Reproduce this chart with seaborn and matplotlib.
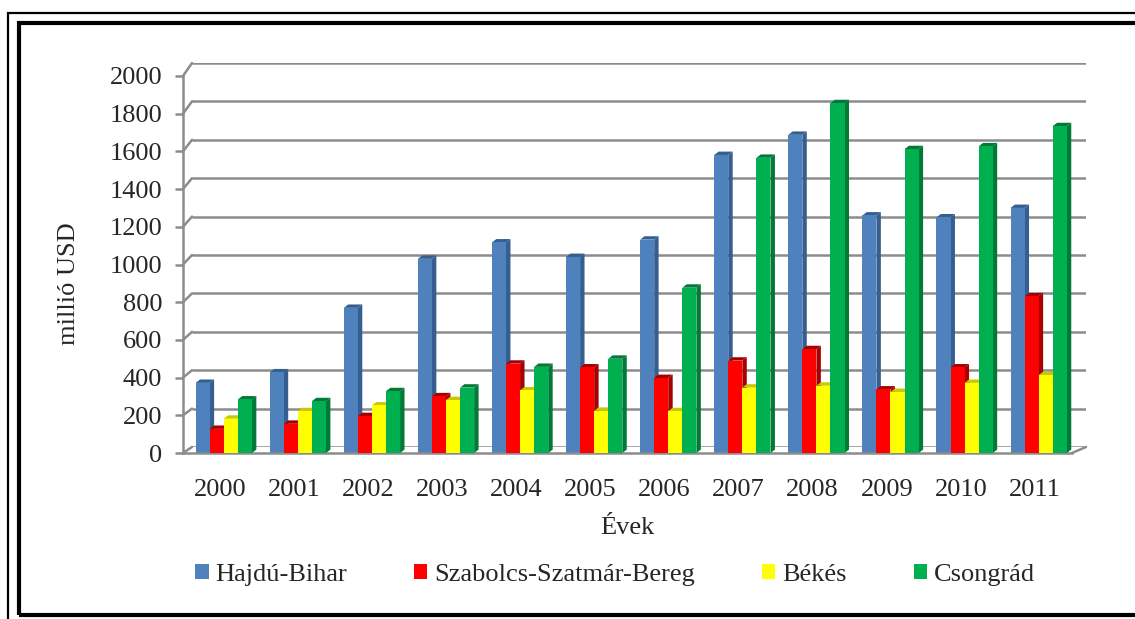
# -*- coding: utf-8 -*-
# Export (millió USD) megyénként, 2000-2011 - oszlopdiagram "3D" hatással

import pandas as pd
import matplotlib.pyplot as plt
import seaborn as sns
from matplotlib.patches import Rectangle, Polygon, ConnectionPatch

# Adatok
evek = ["2000", "2001", "2002", "2003", "2004", "2005",
        "2006", "2007", "2008", "2009", "2010", "2011"]
megyek = ["Hajdú-Bihar", "Szabolcs-Szatmár-Bereg", "Békés", "Csongrád"]
hajdu_bihar = [372, 428, 770, 1030, 1117, 1040, 1132, 1581, 1688, 1260, 1250, 1300]
szabolcs = [128, 155, 196, 301, 474, 454, 398, 490, 551, 337, 454, 831]
bekes = [182, 222, 252, 281, 332, 224, 222, 347, 357, 324, 372, 413]
csongrad = [284, 275, 328, 347, 457, 500, 877, 1566, 1856, 1612, 1627, 1734]
y_ticks = [0, 200, 400, 600, 800, 1000, 1200, 1400, 1600, 1800, 2000]

szinek = ["#4F81BD", "#FF0000", "#FFFF00", "#00B050"]
oldal_szinek = ["#365F91", "#A80000", "#C9C900", "#007A36"]

df = pd.DataFrame({"Év": evek * 4,
                   "Megye": sum([[m] * len(evek) for m in megyek], []),
                   "Érték": hajdu_bihar + szabolcs + bekes + csongrad})

sns.set_style("white")
plt.rcParams["font.family"] = ["Liberation Serif", "DejaVu Serif"]

W, H = 1135, 619
fig = plt.figure(figsize=(W / 100, H / 100), dpi=100)

# keretek
fig.patches.append(Rectangle((8 / W, -0.05), 1.1, 1 - 13 / H + 0.05, transform=fig.transFigure,
                             fill=False, lw=1.6, ec="black", zorder=0))
fig.patches.append(Rectangle((19 / W, 1 - 615 / H), 1.1, (615 - 23) / H, transform=fig.transFigure,
                             fill=False, lw=3.0, ec="black", zorder=0))

# hátsó fal (rácsvonalak)
ax_back = fig.add_axes([192 / W, 1 - 447 / H, (1086 - 192) / W, (447 - 63) / H])
ax_back.set_xlim(0, 1)
ax_back.set_ylim(0, 2000)
ax_back.axis("off")
ax_back.hlines(y_ticks, 0, 1, color="#8c8c8c", lw=1.8)

# fő tengely (elülső sík)
ax = fig.add_axes([183 / W, 1 - 453 / H, (1072 - 183) / W, (453 - 76) / H])
ax.patch.set_alpha(0)
sns.barplot(data=df, x="Év", y="Érték", hue="Megye", hue_order=megyek,
            palette=szinek, width=0.76, saturation=1, legend=False, ax=ax)
ax.set_xlim(-0.5, 11.5)
ax.set_ylim(0, 2000)

# 3D hatás: oldallap és tető
dx, dy = 0.06, 18
for k, cont in enumerate(ax.containers):
    for bar in cont:
        bar.set_x(bar.get_x() + 0.05)
        bar.set_edgecolor("none")
        bar.set_zorder(2 + k)
        x0, w, h = bar.get_x(), bar.get_width(), bar.get_height()
        side = Polygon([(x0 + w, 0), (x0 + w + dx, dy), (x0 + w + dx, h + dy), (x0 + w, h)],
                       closed=True, fc=oldal_szinek[k], ec="none", zorder=1.9 + k)
        top = Polygon([(x0, h), (x0 + dx, h + dy), (x0 + w + dx, h + dy), (x0 + w, h)],
                      closed=True, fc=oldal_szinek[k], ec="none", zorder=1.95 + k)
        ax.add_patch(side)
        ax.add_patch(top)

# átlós összekötők a két sík között
for v in y_ticks:
    fig.add_artist(ConnectionPatch(xyA=(-0.5, v), coordsA=ax.transData, xyB=(0, v),
                                   coordsB=ax_back.transData, color="#8c8c8c", lw=1.8))
fig.add_artist(ConnectionPatch(xyA=(11.5, 0), coordsA=ax.transData, xyB=(1, 0),
                               coordsB=ax_back.transData, color="#8c8c8c", lw=1.8))

for s in ["top", "right"]:
    ax.spines[s].set_visible(False)
for s in ["left", "bottom"]:
    ax.spines[s].set_color("#8c8c8c")
    ax.spines[s].set_linewidth(1.8)

ax.set_yticks(y_ticks)
ax.set_xticks(range(len(evek)))
ax.set_xticks([i - 0.5 for i in range(len(evek) + 1)], minor=True)
ax.tick_params(axis="x", which="major", length=0, pad=19, labelsize=19)
ax.tick_params(axis="x", which="minor", length=7, width=1.8, color="#8c8c8c")
ax.tick_params(axis="y", length=6, width=1.8, color="#8c8c8c", pad=9, labelsize=19, left=True)
ax.set_xlabel("Évek", fontsize=19, va="center")
ax.set_ylabel("millió USD", fontsize=19, va="center")
ax.xaxis.set_label_coords(0.5, -0.2)
ax.yaxis.set_label_coords(-0.128, 0.45)

# jelmagyarázat
kezek = [Rectangle((0, 0), 1, 1, fc=c, ec="none") for c in szinek]
fig.legend(kezek, megyek, loc="center", bbox_to_anchor=(615 / W, 1 - 575 / H), ncol=4,
           frameon=False, fontsize=19, handlelength=0.5, handleheight=0.5,
           handletextpad=0.25, columnspacing=2.55)

fig.savefig("out.png", dpi=100)
